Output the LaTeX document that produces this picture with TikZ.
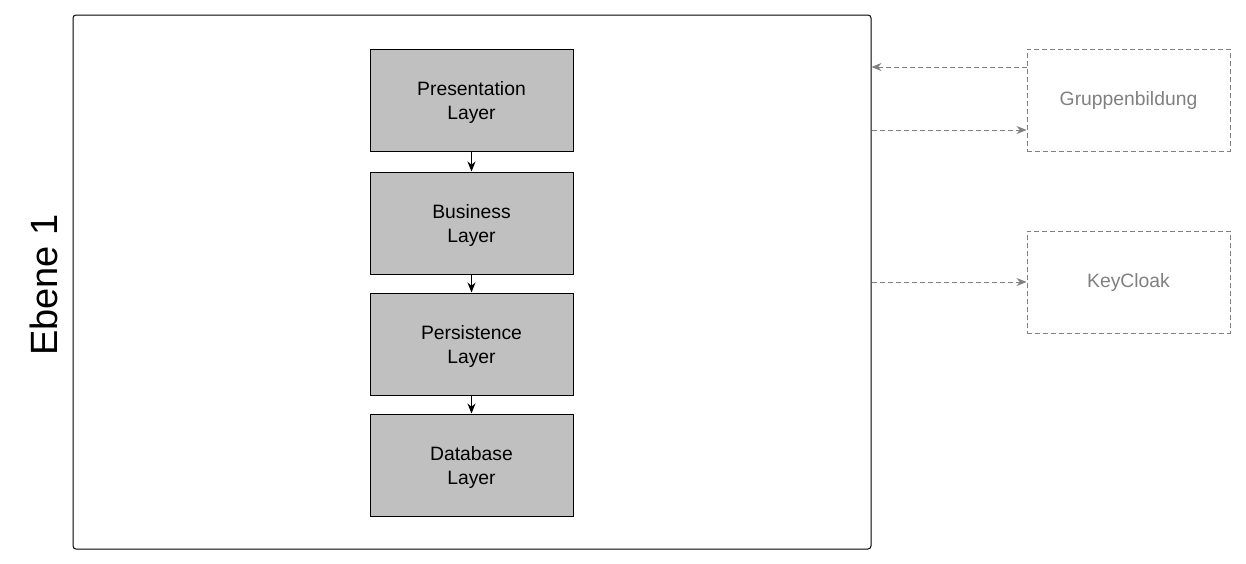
\documentclass[tikz,border=0pt]{standalone}
\usepackage{fontspec}
\setmainfont{Liberation Sans}
\usetikzlibrary{arrows.meta}

\definecolor{layergray}{RGB}{192,192,192}
\definecolor{extgray}{RGB}{128,128,128}

\tikzset{every picture/.style={line width=0.75pt}}
\tikzset{
  layerbox/.style={draw=black, fill=layergray, minimum width=152.25pt, minimum height=76.5pt, inner sep=0.75pt, text depth=0pt, align=center, font=\fontsize{14.5}{18}\selectfont},
  extbox/.style={draw=extgray, dash pattern=on 3.75pt off 2.25pt, minimum width=152.25pt, minimum height=76.5pt, inner sep=0.75pt, align=center, text=extgray, font=\fontsize{14.5}{18}\selectfont},
  layerflow/.style={-{Stealth[length=7.5pt,width=6pt]}, black},
  extflow/.style={-{Stealth[length=7.5pt,width=6pt]}, extgray, dash pattern=on 3.75pt off 2.25pt}
}

\begin{document}
\begin{tikzpicture}[x=0.75pt,y=0.75pt,yscale=-1,xscale=1]
		%set diagram left start at 0, and has height of 564
		\path (0,0) rectangle (1246,564);

		%Shape: Rectangle [id:ebene]
		\node [draw, rounded corners=2.25pt, minimum width=598.5pt, minimum height=400.5pt, inner sep=0pt] (ebene) at (472,282) {};
		% Text Node
		\node [rotate=90, inner sep=0.75pt, font=\fontsize{28.5}{34}\selectfont] (ebenelabel) at (44,285) {Ebene 1};

		%Shape: Rectangle [id:presentation]
		\node [layerbox] (presentation) at (471.5,100) {Presentation\\Layer};
		%Shape: Rectangle [id:business]
		\node [layerbox] (business) at (471.5,223) {Business\\Layer};
		%Shape: Rectangle [id:persistence]
		\node [layerbox] (persistence) at (471.5,344) {Persistence\\Layer};
		%Shape: Rectangle [id:database]
		\node [layerbox] (database) at (471.5,465) {Database\\Layer};

		%Shape: Rectangle [id:gruppe]
		\node [extbox] (gruppe) at (1128.5,100) {Gruppenbildung};
		%Shape: Rectangle [id:keycloak]
		\node [extbox] (keycloak) at (1128.5,282) {KeyCloak};

		%Straight Lines
		\draw [layerflow] (presentation) -- (business);
		\draw [layerflow] (business) -- (persistence);
		\draw [layerflow] (persistence) -- (database);

		%Straight Lines
		\draw [extflow] ([yshift=-24.75pt]gruppe.west) -- ([yshift=-24.75pt]gruppe.west -| ebene.east);
		\draw [extflow] ([yshift=22.5pt]gruppe.west -| ebene.east) -- ([yshift=22.5pt]gruppe.west);
		\draw [extflow] (keycloak.west -| ebene.east) -- (keycloak.west);

\end{tikzpicture}
\end{document}
